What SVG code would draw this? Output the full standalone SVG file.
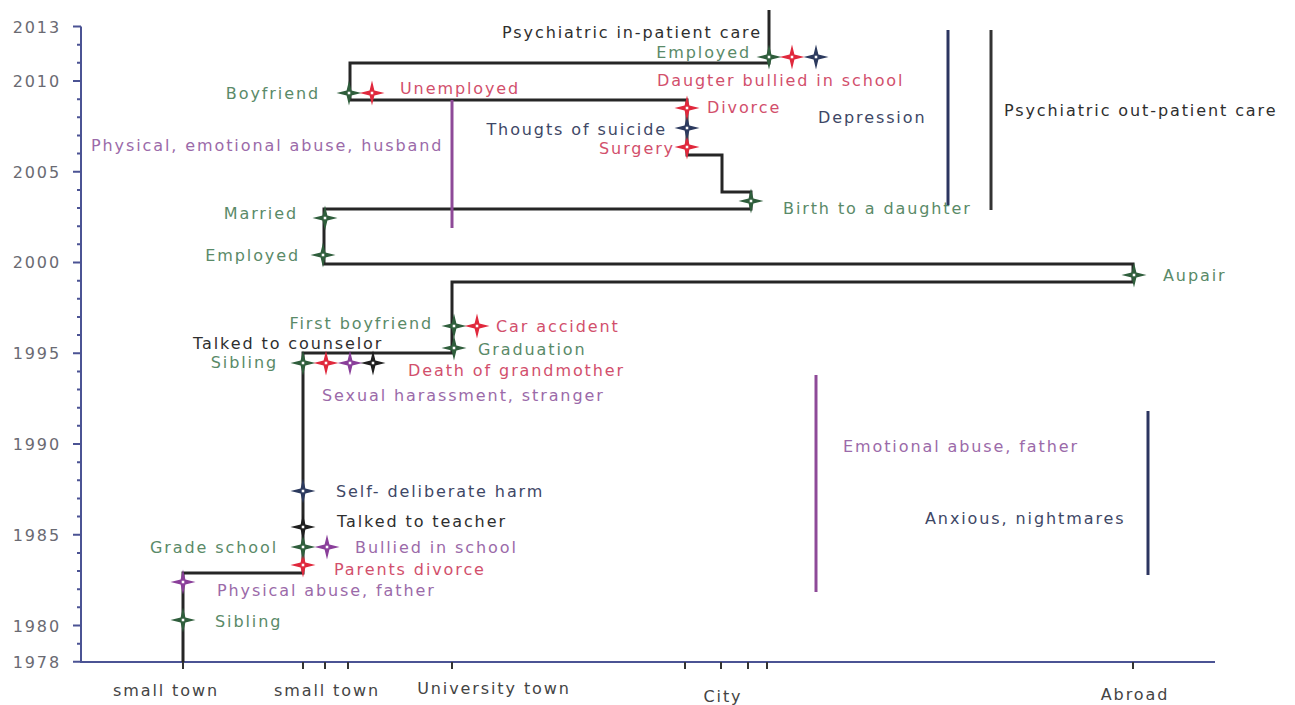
<svg xmlns="http://www.w3.org/2000/svg" xmlns:xlink="http://www.w3.org/1999/xlink" width="1295" height="705" viewBox="0 0 1295 705">
<style>
text{font-family:"DejaVu Sans","Liberation Sans",sans-serif;font-size:16px;letter-spacing:1.9px}
.yl{fill:#6a6a72;text-anchor:end}
.xl{fill:#444;text-anchor:middle}
.tg{fill:#5a8a68}.tr{fill:#d24f6c}.tp{fill:#9b6aa9}.tn{fill:#3e4766}.tk{fill:#2e2e2e}
.e{text-anchor:end}
.mg{color:#2f5e3c}.mr{color:#e0283c}.mp{color:#8a3f9a}.mn{color:#2c3a5e}.mk{color:#1e1e1e}
.axis{fill:none;stroke:#4b5394;stroke-width:2}
.path{fill:none;stroke:#262626;stroke-width:3}
.bar{fill:none;stroke-width:3}
</style>
<defs>
<g id="star">
<path d="M0,-12.5 L2.4,-2.4 L12.5,0 L2.4,2.4 L0,12.5 L-2.4,2.4 L-12.5,0 L-2.4,-2.4 Z" fill="currentColor"/>
<circle r="2" fill="#fff" stroke="currentColor" stroke-width="1"/>
</g>
</defs>
<rect width="1295" height="705" fill="#fff"/>
<g id="axes">
<path class="axis" d="M81,26.5 V662 H1215"/>
<path class="axis" stroke-width="1.5" d="M73,26.5h8M73,81h8M73,171.75h8M73,262.5h8M73,353.25h8M73,444h8M73,534.75h8M73,625.5h8M73,661.8h8M77,44.7h4M77,62.85h4M77,99.15h4M77,117.3h4M77,135.45h4M77,153.6h4M77,189.9h4M77,208.05h4M77,226.2h4M77,244.35h4M77,280.65h4M77,298.8h4M77,316.95h4M77,335.1h4M77,371.4h4M77,389.55h4M77,407.7h4M77,425.85h4M77,462.15h4M77,480.3h4M77,498.45h4M77,516.6h4M77,552.9h4M77,571.05h4M77,589.2h4M77,607.35h4M77,643.65h4"/>
<path fill="none" stroke="#333" stroke-width="2" d="M183,662v7M303,662v7M325,662v7M348,662v7M452,662v7M685,662v7M721,662v7M748,662v7M767,662v7M1133,662v7"/>
<text class="yl" x="61" y="33">2013</text>
<text class="yl" x="61" y="87">2010</text>
<text class="yl" x="61" y="178">2005</text>
<text class="yl" x="61" y="268">2000</text>
<text class="yl" x="61" y="359">1995</text>
<text class="yl" x="61" y="450">1990</text>
<text class="yl" x="61" y="541">1985</text>
<text class="yl" x="61" y="632">1980</text>
<text class="yl" x="61" y="668">1978</text>
<text class="xl" x="166" y="696">small town</text>
<text class="xl" x="327" y="696">small town</text>
<text class="xl" x="494" y="694">University town</text>
<text class="xl" x="723" y="702">City</text>
<text class="xl" x="1135" y="700">Abroad</text>
</g>
<g id="connectors">
<path class="path" d="M183,662 V573 H303 V353 H452 V282 H1133 V264 H324 V209 H751 V192 H722 V155 H687 V100 H350 V63 H769 V10"/>
<path class="bar" stroke="#8e4a98" d="M452,100 V228"/>
<path class="bar" stroke="#2c3560" d="M948,30 V205"/>
<path class="bar" stroke="#333" d="M991,30 V210"/>
<path class="bar" stroke="#8e4a98" d="M816,375 V592"/>
<path class="bar" stroke="#2c3560" d="M1148,411 V575"/>
</g>
<g id="n-sibling-1980"><use href="#star" x="183" y="620" class="mg"/><text class="tg" x="215" y="627">Sibling</text></g>
<g id="n-physical-abuse-father"><use href="#star" x="183" y="582" class="mp"/><text class="tp" x="217" y="596">Physical abuse, father</text></g>
<g id="n-parents-divorce"><use href="#star" x="303" y="565" class="mr"/><text class="tr" x="334" y="575">Parents divorce</text></g>
<g id="n-grade-school"><use href="#star" x="303" y="547" class="mg"/><text class="tg e" x="278" y="553">Grade school</text></g>
<g id="n-bullied"><use href="#star" x="327" y="547" class="mp"/><text class="tp" x="355" y="553">Bullied in school</text></g>
<g id="n-talked-teacher"><use href="#star" x="303" y="527" class="mk"/><text class="tk" x="337" y="527">Talked to teacher</text></g>
<g id="n-self-harm"><use href="#star" x="303" y="491" class="mn"/><text class="tn" x="336" y="497">Self- deliberate harm</text></g>
<g id="n-sibling-1995"><use href="#star" x="303" y="363" class="mg"/><text class="tg e" x="278" y="368">Sibling</text></g>
<g id="n-death-grandmother"><use href="#star" x="326" y="363" class="mr"/><text class="tr" x="408" y="376">Death of grandmother</text></g>
<g id="n-sexual-harassment"><use href="#star" x="350" y="363" class="mp"/><text class="tp" x="322" y="401">Sexual harassment, stranger</text></g>
<g id="n-talked-counselor"><use href="#star" x="373" y="363" class="mk"/><text class="tk" x="193" y="349">Talked to counselor</text></g>
<g id="n-first-boyfriend"><use href="#star" x="454" y="326" class="mg"/><text class="tg e" x="433" y="329">First boyfriend</text></g>
<g id="n-car-accident"><use href="#star" x="477" y="326" class="mr"/><text class="tr" x="496" y="332">Car accident</text></g>
<g id="n-graduation"><use href="#star" x="454" y="348" class="mg"/><text class="tg" x="478" y="355">Graduation</text></g>
<g id="n-aupair"><use href="#star" x="1134" y="275" class="mg"/><text class="tg" x="1163" y="281">Aupair</text></g>
<g id="n-employed-2000"><use href="#star" x="323" y="255" class="mg"/><text class="tg e" x="300" y="261">Employed</text></g>
<g id="n-married"><use href="#star" x="325" y="218" class="mg"/><text class="tg e" x="298" y="219">Married</text></g>
<g id="n-birth-daughter"><use href="#star" x="751" y="201" class="mg"/><text class="tg" x="783" y="214">Birth to a daughter</text></g>
<g id="n-surgery"><use href="#star" x="687" y="147" class="mr"/><text class="tr e" x="675" y="154">Surgery</text></g>
<g id="n-suicide"><use href="#star" x="687" y="128" class="mn"/><text class="tn e" x="667" y="135">Thougts of suicide</text></g>
<g id="n-divorce"><use href="#star" x="687" y="108" class="mr"/><text class="tr" x="707" y="113">Divorce</text></g>
<g id="n-boyfriend"><use href="#star" x="349" y="93" class="mg"/><text class="tg e" x="320" y="99">Boyfriend</text></g>
<g id="n-unemployed"><use href="#star" x="372" y="93" class="mr"/><text class="tr" x="400" y="94">Unemployed</text></g>
<g id="n-employed-2011"><use href="#star" x="769" y="57" class="mg"/><text class="tg e" x="751" y="58">Employed</text></g>
<g id="n-daughter-bullied"><use href="#star" x="792" y="57" class="mr"/><text class="tr" x="657" y="86">Daugter bullied in school</text></g>
<g id="n-inpatient"><use href="#star" x="816" y="57" class="mn"/><text class="tk e" x="762" y="38">Psychiatric in-patient care</text></g>
<g id="n-husband-abuse"><text class="tp" x="91" y="151">Physical, emotional abuse, husband</text></g>
<g id="n-depression"><text class="tn" x="818" y="123">Depression</text></g>
<g id="n-outpatient"><text class="tk" x="1004" y="116">Psychiatric out-patient care</text></g>
<g id="n-emotional-father"><text class="tp" x="843" y="452">Emotional abuse, father</text></g>
<g id="n-anxious"><text class="tn" x="925" y="524">Anxious, nightmares</text></g>
</svg>
